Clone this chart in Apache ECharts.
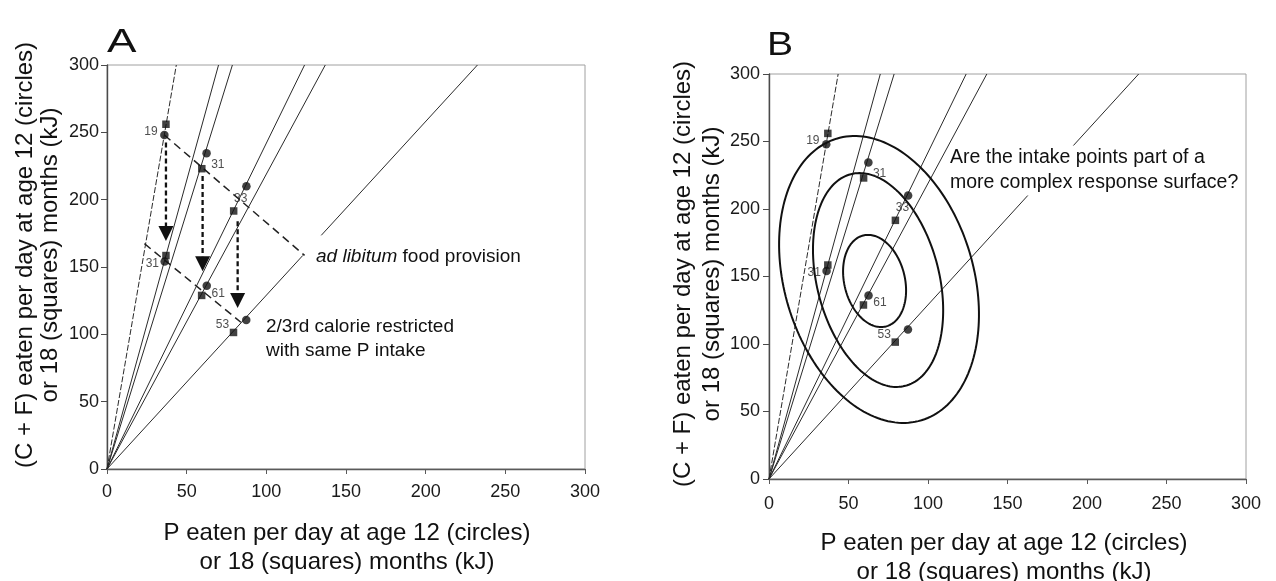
<!DOCTYPE html>
<html>
<head>
<meta charset="utf-8">
<script src="https://cdn.jsdelivr.net/npm/echarts@6/dist/echarts.min.js"></script>
<style>
  html, body { margin: 0; padding: 0; background: #fff; }
  #chart { width: 1276px; height: 581px; }
</style>
</head>
<body>
<div id="chart"></div>
<script>
// Diet numbers written beside each pair of intake points
const dietIds = ['19', '31', '33', '31', '61', '53'];
// Intake at age 12 months (circles): P and C+F eaten per day, kJ
const p12  = [36, 62.5, 87.5, 36.2, 62.6, 87.4];
const cf12 = [248, 234.5, 210, 154, 136, 110.7];
// Intake at age 18 months (squares)
const p18  = [37, 59.5, 79.5, 37, 59.4, 79.4];
const cf18 = [256, 223, 191.6, 158.5, 128.9, 101.4];
// Nutritional rails from the origin: P value where each rail meets C+F = 300
const railTopP = [43.5, 70, 78.7, 124, 137, 232.5];
// Equal-energy lines in panel A (ad libitum and 2/3 calorie restricted)
const adLibLine = [[36, 248], [124, 158.6]];
const restrictedLine = [[23.5, 167.3], [84, 109]];
// Restriction arrows: P, C+F at start, C+F at the arrow tip
const arrows = [[37, 242.5, 169.3], [60, 217.6, 146.9], [82, 184, 119.6]];
// C+F span where the shallowest rail of panel A is left open at the ad libitum tip
const rail53Gap = [158.6, 173.5];
// Response-surface contours (panel B): centre P, centre C+F,
// then the two conjugate half-axis vectors (dP, dC+F)
const contours = [
  [69.2, 147.8, 26.7, -104.3, 56.9, 20.3],
  [68.6, 147.4, 17.1, -78.4, 37.2, 11.3],
  [66.4, 146.7, 7.1, -33.7, 18.5, 5.4]
];
// Axis ticks (both axes, both panels)
const tickMin = 0, tickMax = 300, tickStep = 50;

// Label offsets (px) of the diet numbers relative to the square marks
const idLabelOffset = [[-15, 7], [16, -4.5], [7, -12.5], [-13.6, 8], [16.6, -2], [-11, -7.5]];

const FONT = 'Liberation Sans, Arial, Helvetica, sans-serif';
const INK = '#111';

const chart = echarts.init(document.getElementById('chart'), null, { renderer: 'canvas' });

function xAxisFor(g, margin) {
  return {
    type: 'value', gridIndex: g, min: tickMin, max: tickMax, interval: tickStep,
    axisLine: { show: true, onZero: false, lineStyle: { color: '#5a5a5a', width: 1.3 } },
    axisTick: { show: true, length: 5, lineStyle: { color: '#5a5a5a' } },
    axisLabel: { margin: margin, fontSize: 18, color: '#1a1a1a', fontFamily: FONT },
    splitLine: { show: false }
  };
}
function yAxisFor(g, margin) {
  return {
    type: 'value', gridIndex: g, min: tickMin, max: tickMax, interval: tickStep,
    axisLine: { show: true, onZero: false, lineStyle: { color: '#4a4a4a', width: 1.4 } },
    axisTick: { show: true, length: 6, lineStyle: { color: '#4a4a4a' } },
    axisLabel: { margin: margin, fontSize: 18, color: '#1a1a1a', fontFamily: FONT },
    splitLine: { show: false }
  };
}

function railSeries(g) {
  const out = [];
  railTopP.forEach((topP, i) => {
    const style = { color: '#2a2a2a', width: 1, type: i === 0 ? [6, 2] : 'solid' };
    const base = {
      type: 'line', xAxisIndex: g, yAxisIndex: g, symbol: 'none', silent: true,
      animation: false, lineStyle: style, z: 1
    };
    if (g === 0 && i === railTopP.length - 1) {
      const k = topP / tickMax;
      out.push(Object.assign({}, base, { data: [[0, 0], [rail53Gap[0] * k, rail53Gap[0]]] }));
      out.push(Object.assign({}, base, { data: [[rail53Gap[1] * k, rail53Gap[1]], [topP, tickMax]] }));
    } else {
      out.push(Object.assign({}, base, { data: [[0, 0], [topP, tickMax]] }));
    }
  });
  return out;
}

function pointSeries(g) {
  return [
    {
      type: 'scatter', xAxisIndex: g, yAxisIndex: g, symbol: 'circle', symbolSize: 8.5,
      itemStyle: { color: INK }, silent: true, animation: false, z: 4,
      data: p12.map((p, i) => [p, cf12[i]])
    },
    {
      type: 'scatter', xAxisIndex: g, yAxisIndex: g, symbol: 'rect', symbolSize: 7.5,
      itemStyle: { color: INK }, silent: true, animation: false, z: 5,
      label: {
        show: true, position: 'inside', fontSize: 12, color: '#222', fontFamily: FONT,
        formatter: (p) => dietIds[p.dataIndex]
      },
      data: p18.map((p, i) => ({ value: [p, cf18[i]], label: { offset: idLabelOffset[i] } }))
    }
  ];
}

const dashedLine = (data) => ({
  type: 'line', xAxisIndex: 0, yAxisIndex: 0, symbol: 'none', silent: true, animation: false,
  lineStyle: { color: '#222', width: 1.5, type: [8, 5] }, z: 3, data: data
});

const arrowSeries = {
  type: 'custom', xAxisIndex: 0, yAxisIndex: 0, silent: true, animation: false, z: 3,
  dimensions: ['p', 'from', 'to'], encode: { x: 0, y: 1 },
  data: arrows,
  renderItem: function (params, api) {
    const s = api.coord([api.value(0), api.value(1)]);
    const t = api.coord([api.value(0), api.value(2)]);
    const head = 15, half = 7.5;
    const dx = t[0] - s[0], dy = t[1] - s[1];
    const len = Math.hypot(dx, dy), ux = dx / len, uy = dy / len;
    const bx = t[0] - ux * head, by = t[1] - uy * head;
    return {
      type: 'group',
      children: [
        { type: 'line', shape: { x1: s[0], y1: s[1], x2: bx, y2: by },
          style: { stroke: INK, lineWidth: 2.3, lineDash: [5, 3] } },
        { type: 'polygon',
          shape: { points: [[bx - uy * half, by + ux * half], [bx + uy * half, by - ux * half], [t[0], t[1]]] },
          style: { fill: INK } }
      ]
    };
  }
};

const contourSeries = {
  type: 'custom', xAxisIndex: 1, yAxisIndex: 1, silent: true, animation: false, z: 3,
  dimensions: ['p', 'cf', 'ap', 'acf', 'bp', 'bcf'], encode: { x: 0, y: 1 },
  data: contours,
  renderItem: function (params, api) {
    const cp = api.value(0), cv = api.value(1);
    const c = api.coord([cp, cv]);
    const a = api.coord([cp + api.value(2), cv + api.value(3)]);
    const b = api.coord([cp + api.value(4), cv + api.value(5)]);
    const u = [a[0] - c[0], a[1] - c[1]], v = [b[0] - c[0], b[1] - c[1]];
    const pts = [];
    const n = 180;
    for (let k = 0; k < n; k++) {
      const t = k / n * Math.PI * 2, ct = Math.cos(t), st = Math.sin(t);
      pts.push([c[0] + ct * u[0] + st * v[0], c[1] + ct * u[1] + st * v[1]]);
    }
    return { type: 'polygon', shape: { points: pts },
             style: { fill: 'none', stroke: INK, lineWidth: 2 } };
  }
};

function txt(x, y, text, size, extra) {
  return Object.assign({
    type: 'text', x: x, y: y, silent: true,
    style: Object.assign({
      text: text, fontSize: size, fontFamily: FONT, fill: INK,
      textAlign: 'center', textVerticalAlign: 'middle', align: 'center', verticalAlign: 'middle'
    }, extra && extra.style)
  }, extra && extra.el);
}

const xTitle = 'P eaten per day at age 12 (circles)\nor 18 (squares) months (kJ)';
const yTitle = '(C + F) eaten per day at age 12 (circles)\nor 18 (squares) months (kJ)';

const option = {
  animation: false,
  backgroundColor: '#fff',
  grid: [
    { left: 107, top: 65, width: 478, height: 404, show: true, borderColor: '#a0a0a0', borderWidth: 1 },
    { left: 769, top: 74, width: 477, height: 405, show: true, borderColor: '#a0a0a0', borderWidth: 1 }
  ],
  xAxis: [xAxisFor(0, 14), xAxisFor(1, 16)],
  yAxis: [yAxisFor(0, 8), yAxisFor(1, 9)],
  series: [].concat(
    railSeries(0), railSeries(1),
    [dashedLine(adLibLine), dashedLine(restrictedLine), arrowSeries, contourSeries],
    pointSeries(0), pointSeries(1)
  ),
  graphic: [
    // panel letters (scaled about their own anchor)
    txt(107, 43, 'A', 34, { el: { scaleX: 1.3, originX: 0, originY: 0 }, style: { textAlign: 'left', align: 'left' } }),
    txt(767, 45.5, 'B', 34, { el: { scaleX: 1.15, originX: 0, originY: 0 }, style: { textAlign: 'left', align: 'left' } }),
    // axis titles
    txt(347, 547.5, xTitle, 24, { style: { lineHeight: 29 } }),
    txt(1004, 557.5, xTitle, 24, { style: { lineHeight: 29 } }),
    txt(37.8, 255, yTitle, 24, { el: { rotation: Math.PI / 2 }, style: { lineHeight: 25.5 } }),
    txt(698, 274, yTitle, 24, { el: { rotation: Math.PI / 2 }, style: { lineHeight: 28.5 } }),
    // panel A annotations
    txt(316, 257, '{i|ad libitum} food provision', 19, {
      style: { textAlign: 'left', align: 'left',
               rich: { i: { fontStyle: 'italic', fontSize: 19, fontFamily: FONT, fill: INK } } }
    }),
    txt(266, 339, '2/3rd calorie restricted\nwith same P intake', 19, {
      style: { textAlign: 'left', align: 'left', lineHeight: 24 }
    }),
    // panel B question, knocked out of the rail behind it
    txt(950, 170.5, 'Are the intake points part of a\nmore complex response surface?', 19.5, {
      el: { z: 50 },
      style: { textAlign: 'left', align: 'left', lineHeight: 25, backgroundColor: '#fff' }
    })
  ]
};

chart.setOption(option);
</script>
</body>
</html>
